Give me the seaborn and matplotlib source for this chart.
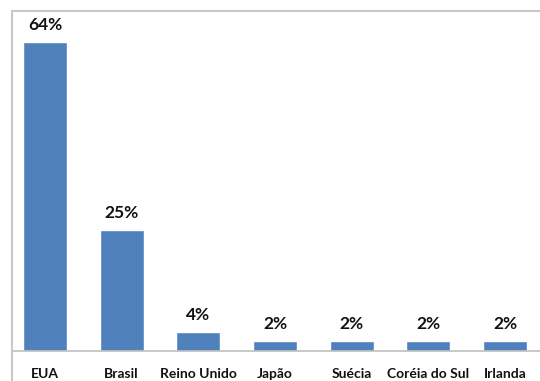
import matplotlib
matplotlib.use("Agg")
import matplotlib.pyplot as plt
from matplotlib.lines import Line2D
import seaborn as sns
import pandas as pd

paises = ["EUA", "Brasil", "Reino Unido", "Japão", "Suécia", "Coréia do Sul", "Irlanda"]
percentuais = [64, 25, 4, 2, 2, 2, 2]
rotulos = ["64%", "25%", "4%", "2%", "2%", "2%", "2%"]

df = pd.DataFrame({"pais": paises, "pct": percentuais})

sns.set_style("white")
plt.rcParams["font.family"] = ["Lato", "DejaVu Sans"]

fig = plt.figure(figsize=(5.4, 3.81), dpi=100)
ax = fig.add_axes([0, 30 / 381, 1, 351 / 381])

sns.barplot(data=df, x="pais", y="pct", color="#4F81BD", width=0.574,
            saturation=1, ax=ax)

# posicao das barras como no original (grafico recortado)
ax.set_xlim(-45 / 76.67, (540 - 45) / 76.67)
ax.set_ylim(0, 351 / 4.83)

for i, (v, r) in enumerate(zip(percentuais, rotulos)):
    ax.annotate(r, (i, v), xytext=(0, 6.5), textcoords="offset points",
                ha="center", va="bottom", fontsize=12.5, fontweight="bold",
                color="#111111")

for s in ax.spines.values():
    s.set_visible(False)
ax.axhline(0, xmin=13 / 540, xmax=1, color="#bfbfbf", lw=1.2, clip_on=False)

ax.set_yticks([])
ax.set_xlabel("")
ax.set_ylabel("")
ax.tick_params(axis="x", length=0, pad=12.5)
for t in ax.get_xticklabels():
    t.set_fontweight("bold")
    t.set_fontsize(10)
    t.set_color("#111111")

# borda do grafico (cinza claro)
fig.add_artist(Line2D([12 / 540, 1], [1 - 11 / 381, 1 - 11 / 381],
                      color="#c8c8c8", lw=1.5))
fig.add_artist(Line2D([12 / 540, 12 / 540], [0, 1 - 11 / 381],
                      color="#c8c8c8", lw=1.5))

fig.savefig("out.png", dpi=100)
